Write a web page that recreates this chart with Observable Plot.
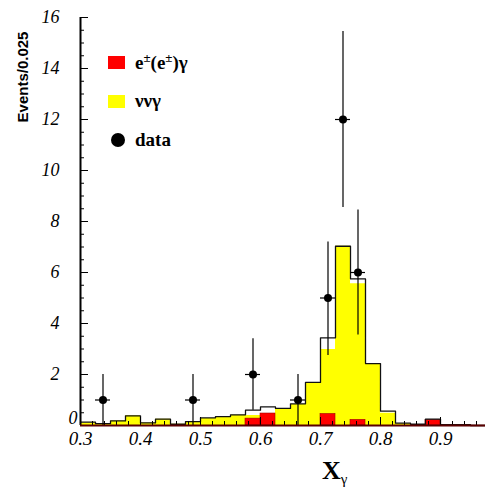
<!DOCTYPE html>
<html>
<head>
<meta charset="utf-8">
<script src="https://cdn.jsdelivr.net/npm/d3@7"></script>
<script src="https://cdn.jsdelivr.net/npm/@observablehq/plot@0.6"></script>
<style>
  body { margin: 0; background: #fff; }
  #wrap { position: relative; width: 485px; height: 489px; overflow: hidden; }
  .ov { position: absolute; white-space: nowrap; }
  .leg { font-family: "Liberation Serif", "Times New Roman", serif; font-weight: bold; font-size: 19px; line-height: 19px; color: #000; }
</style>
</head>
<body>
<div id="wrap"></div>
<script>
// ---- data ----
const binLo = [0.300,0.325,0.350,0.375,0.400,0.425,0.450,0.475,0.500,0.525,0.550,0.575,0.600,0.625,0.650,0.675,0.700,0.725,0.750,0.775,0.800,0.825,0.850,0.875,0.900,0.925,0.950];
const binWidth = 0.025;
// total MC (black outline)
const totalMC = [0.13,0.07,0.18,0.38,0.10,0.25,0.05,0.15,0.30,0.35,0.42,0.60,0.73,0.67,0.85,1.69,3.44,7.03,5.75,2.43,0.56,0.09,0.05,0.25,0.03,0.03,0.00];
// nu nu gamma (yellow)
const nunuGamma = [0.10,0.05,0.18,0.38,0.10,0.25,0.05,0.12,0.27,0.33,0.40,0.39,0.45,0.65,0.82,1.69,2.98,7.03,5.56,2.43,0.48,0.07,0.04,0.20,0.03,0.03,0.00];
// e(e)gamma (red)
const eeGamma = [0,0,0,0,0,0,0,0,0,0,0,0.27,0.47,0,0,0,0.45,0,0.22,0,0,0,0,0.22,0,0,0];
// data points
const dataX  = [0.3375,0.4875,0.5875,0.6625,0.7125,0.7375,0.7625];
const dataY  = [1,1,2,1,5,12,6];
const dataLo = [0,0,0.60,0,2.75,8.55,3.55];
const dataHi = [2,2,3.40,2,7.20,15.45,8.45];
// axes
const xDomain = [0.3, 0.975];
const yDomain = [0, 16];
const xTicks = [0.3,0.4,0.5,0.6,0.7,0.8,0.9];
const xMinor = [0.30,0.32,0.34,0.36,0.38,0.40,0.42,0.44,0.46,0.48,0.50,0.52,0.54,0.56,0.58,0.60,0.62,0.64,0.66,0.68,0.70,0.72,0.74,0.76,0.78,0.80,0.82,0.84,0.86,0.88,0.90,0.92,0.94,0.96];
const yTicks = [0,2,4,6,8,10,12,14,16];
const yMinor = [0,0.5,1,1.5,2,2.5,3,3.5,4,4.5,5,5.5,6,6.5,7,7.5,8,8.5,9,9.5,10,10.5,11,11.5,12,12.5,13,13.5,14,14.5,15,15.5,16];

// ---- build tables ----
const steps = binLo.map((x, i) => ({x, total: totalMC[i], nunu: nunuGamma[i]}));
steps.push({x: binLo[binLo.length - 1] + binWidth, total: totalMC[totalMC.length - 1], nunu: nunuGamma[nunuGamma.length - 1]});
const redBins = binLo.map((x, i) => ({x1: x, x2: x + binWidth, v: eeGamma[i]})).filter(d => d.v > 0);
const pts = dataX.map((x, i) => ({x, y: dataY[i], lo: dataLo[i], hi: dataHi[i], xl: x - binWidth / 2, xr: x + binWidth / 2}));

const serifItalic = {fontFamily: "Liberation Serif", fontStyle: "italic", fontSize: 18};

const chart = Plot.plot({
  width: 485,
  height: 489,
  marginLeft: 80,
  marginRight: 0,
  marginTop: 17,
  marginBottom: 64,
  style: "background: white; overflow: visible; font-family: 'Liberation Serif', serif; font-style: italic; font-size: 18px;",
  x: {domain: xDomain, label: null},
  y: {domain: yDomain, label: null},
  marks: [
    Plot.areaY(steps, {x: "x", y: "nunu", curve: "step-after", fill: "#ffff00"}),
    Plot.rectY(redBins, {x1: "x1", x2: "x2", y: "v", fill: "#ff0000", stroke: "#a00000", strokeWidth: 0.6}),
    Plot.line(steps, {x: "x", y: "total", curve: "step-after", stroke: "#111", strokeWidth: 1.3}),
    // data with error bars
    Plot.ruleX(pts, {x: "x", y1: "lo", y2: "hi", stroke: "#000", strokeWidth: 1.2}),
    Plot.ruleY(pts, {y: "y", x1: "xl", x2: "xr", stroke: "#000", strokeWidth: 1.2}),
    Plot.dot(pts, {x: "x", y: "y", r: 4, fill: "#000"}),
    // axes (ticks drawn inside the frame, ROOT style)
    Plot.axisX(xMinor, {anchor: "bottom", tickSize: 4, dy: -4, tickFormat: () => "", stroke: "#000"}),
    Plot.axisX(xTicks, {anchor: "bottom", tickSize: 8, dy: -8, tickFormat: () => "", stroke: "#000"}),
    Plot.axisX(xTicks, {anchor: "bottom", tickSize: 0, tickPadding: 6, tickFormat: d => d.toFixed(1), ...serifItalic, fontSize: 19}),
    Plot.axisY(yMinor, {anchor: "left", tickSize: 4, dx: 4, tickFormat: () => "", stroke: "#000"}),
    Plot.axisY(yTicks, {anchor: "left", tickSize: 8, dx: 8, tickFormat: () => "", stroke: "#000"}),
    Plot.axisY(yTicks.filter(t => t !== 0), {anchor: "left", tickSize: 0, tickPadding: 21, ...serifItalic}),
    Plot.axisY([0], {anchor: "left", tickSize: 0, tickPadding: 3, dy: -7, ...serifItalic}),
    Plot.ruleX([xDomain[0]], {stroke: "#000", strokeWidth: 2}),
    Plot.ruleY([yDomain[0]], {stroke: "#5a0000", strokeWidth: 2})
  ]
});

const wrap = document.getElementById("wrap");
wrap.appendChild(chart);
chart.querySelectorAll("text").forEach(t => {
  t.style.setProperty("font-family", "'Liberation Serif', serif", "important");
  t.style.setProperty("font-style", "italic", "important");
});

function add(html, style, cls) {
  const d = document.createElement("div");
  d.className = "ov " + (cls || "");
  d.setAttribute("style", style);
  d.innerHTML = html;
  wrap.appendChild(d);
}
// axis titles
add("Events/0.025", "left:22px;top:77px;transform:translate(-50%,-50%) rotate(-90deg);font-family:'Liberation Sans',sans-serif;font-weight:bold;font-size:15px;color:#000;");
add('X<span style="font-size:15px;font-weight:normal;position:relative;top:5px;">γ</span>',
    "left:322px;top:458px;font-family:'Liberation Serif',serif;font-weight:bold;font-size:26px;line-height:26px;color:#000;");
// legend
add("", "left:108px;top:56px;width:17px;height:13px;background:#ff0000;");
add('e<span style="font-size:13px;position:relative;top:-7px;">±</span>(e<span style="font-size:13px;position:relative;top:-7px;">±</span>)γ', "left:135px;top:53px;", "leg");
add("", "left:108px;top:95px;width:17px;height:13px;background:#ffff00;");
add("ννγ", "left:135px;top:91px;", "leg");
add("", "left:111px;top:133px;width:14px;height:14px;border-radius:50%;background:#000;");
add("data", "left:135px;top:130px;", "leg");
</script>
</body>
</html>
